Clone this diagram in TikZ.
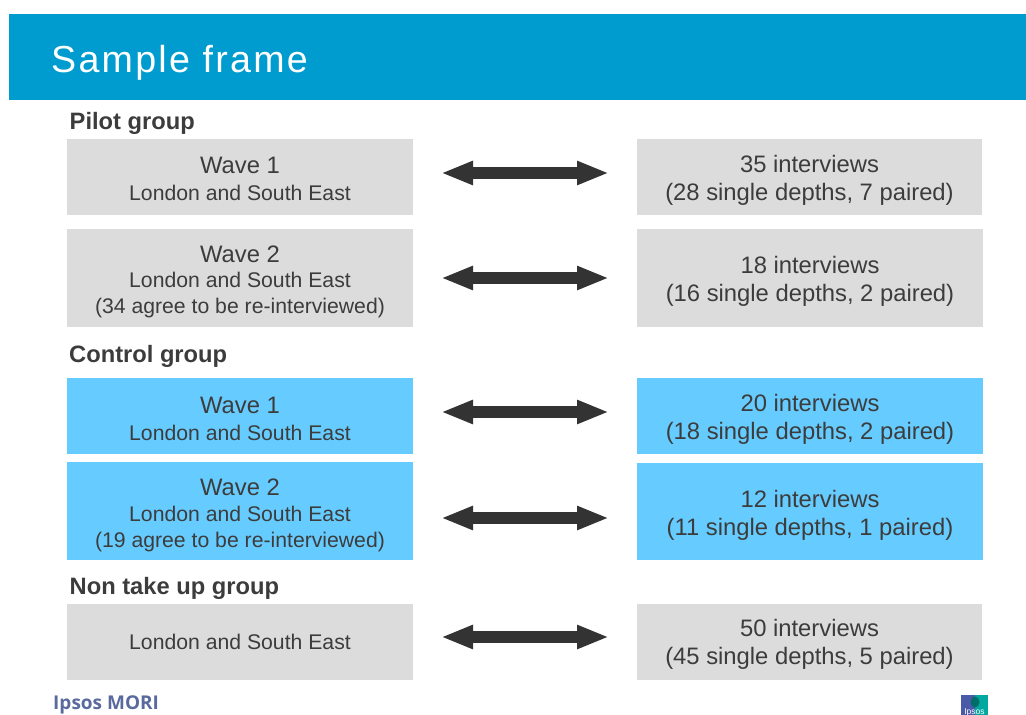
\documentclass[tikz,border=0pt]{standalone}
\usepackage{fontspec}
\setmainfont{Liberation Sans}
\newfontfamily\titlefont[LetterSpace=6]{Liberation Sans}
\newfontfamily\logofont{Open Sans}
\usetikzlibrary{arrows.meta}
\definecolor{headblue}{HTML}{009CCF}
\definecolor{boxgrey}{HTML}{DCDCDC}
\definecolor{boxblue}{HTML}{66CCFF}
\definecolor{inktext}{HTML}{3C3C3C}
\definecolor{arrowdark}{HTML}{333333}
\definecolor{logoblue}{HTML}{4A5AA8}
\definecolor{logoteal}{HTML}{00A8A0}
\definecolor{brandink}{HTML}{5A6A9F}
\newcommand{\bigline}[1]{{\fontsize{23.8}{27}\selectfont #1}}
\newcommand{\pushdown}[1]{\rule{0pt}{#1pt}}
\tikzset{
  x=1pt,y=-1pt,
  panel/.style={anchor=north west,inner sep=0pt,outer sep=0pt,align=center,text=inktext,font=\fontsize{21.2}{27}\selectfont},
  greypanel/.style={panel,fill=boxgrey},
  bluepanel/.style={panel,fill=boxblue},
  rightpanel/.style={font=\fontsize{21.2}{28}\selectfont},
  threeline/.style={font=\fontsize{21.2}{25.7}\selectfont},
  grouplabel/.style={anchor=base west,inner sep=0pt,text=inktext,font=\bfseries\fontsize{23.7}{26}\selectfont},
  twoway/.style={draw=arrowdark,line width=11.5pt,{Triangle[length=32pt,width=22pt]}-{Triangle[length=32pt,width=22pt]},shorten <=28pt,shorten >=28pt},
}
\begin{document}
\begin{tikzpicture}
\useasboundingbox (0,0) rectangle (1026,715);
\fill[white] (0,0) rectangle (1026,715);
\node[anchor=north west,inner sep=0pt,fill=headblue,minimum width=1017pt,minimum height=86pt] (header) at (9,14) {};
\node[anchor=base west,inner sep=0pt,text=white,font=\titlefont\fontsize{37.6}{40}\selectfont] (title) at (51,72) {Sample frame};

\node[grouplabel] (gpilot) at (69.5,129) {Pilot group};
\node[grouplabel] (gcontrol) at (69,362) {Control group};
\node[grouplabel] (gnon) at (69.5,594) {Non take up group};

\node[greypanel,minimum width=346pt,minimum height=76pt] (l1) at (67,139) {\pushdown{21}\bigline{Wave 1}\\ London and South East};
\node[greypanel,rightpanel,minimum width=345pt,minimum height=76pt] (r1) at (637,139) {\pushdown{24}\bigline{35 interviews}\\ \bigline{(28 single depths, 7 paired)}};
\node[greypanel,threeline,minimum width=346pt,minimum height=98pt] (l2) at (67,229) {\pushdown{24}\bigline{Wave 2}\\ London and South East\\ (34 agree to be re-interviewed)};
\node[greypanel,rightpanel,minimum width=346pt,minimum height=98pt] (r2) at (637,229) {\pushdown{24}\bigline{18 interviews}\\ \bigline{(16 single depths, 2 paired)}};
\node[bluepanel,minimum width=346pt,minimum height=76pt] (l3) at (67,378) {\pushdown{22}\bigline{Wave 1}\\ London and South East};
\node[bluepanel,rightpanel,minimum width=346pt,minimum height=76pt] (r3) at (637,378) {\pushdown{24}\bigline{20 interviews}\\ \bigline{(18 single depths, 2 paired)}};
\node[bluepanel,threeline,minimum width=346pt,minimum height=98pt] (l4) at (67,462) {\pushdown{25}\bigline{Wave 2}\\ London and South East\\ (19 agree to be re-interviewed)};
\node[bluepanel,rightpanel,minimum width=346pt,minimum height=97pt] (r4) at (637,463) {\pushdown{24}\bigline{12 interviews}\\ \bigline{(11 single depths, 1 paired)}};
\node[greypanel,minimum width=346pt,minimum height=76pt] (l5) at (67,604) {London and South East};
\node[greypanel,rightpanel,minimum width=345pt,minimum height=76pt] (r5) at (637,604) {\pushdown{22}\bigline{50 interviews}\\ \bigline{(45 single depths, 5 paired)}};

\draw[twoway] ([yshift=4pt]l1.east) -- ([yshift=4pt]r1.west);
\draw[twoway] (l2.east) -- (r2.west);
\draw[twoway] ([yshift=4pt]l3.east) -- ([yshift=4pt]r3.west);
\draw[twoway] ([yshift=-7pt]l4.east) -- ([yshift=-6.5pt]r4.west);
\draw[twoway] ([yshift=5pt]l5.east) -- ([yshift=5pt]r5.west);

\node[anchor=base west,inner sep=0pt,text=brandink,font=\logofont\bfseries\fontsize{19}{20}\selectfont] (brand) at (53,709) {Ipsos MORI};

\begin{scope}
\fill[logoblue] (961,695) rectangle (975,715);
\fill[logoteal] (975,695) rectangle (988,715);
\fill[black!35!logoteal] (975,702) ellipse (4.5pt and 5.5pt);
\node[anchor=base,inner sep=0pt,text=white,font=\fontsize{8.5}{9}\selectfont] (mark) at (974.5,714) {Ipsos};
\end{scope}
\end{tikzpicture}
\end{document}
